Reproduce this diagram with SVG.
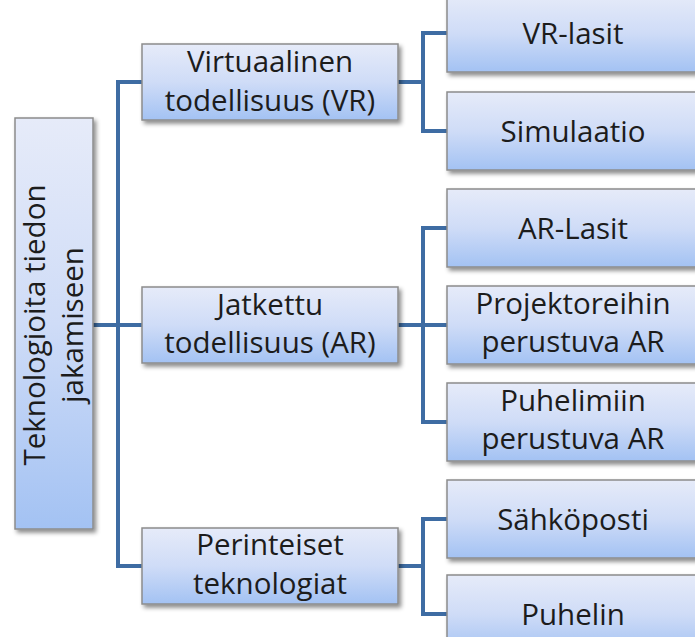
<svg xmlns="http://www.w3.org/2000/svg" width="695" height="637" viewBox="0 0 695 637">
<defs>
<linearGradient id="g" x1="0" y1="0" x2="0" y2="1">
<stop offset="0" stop-color="#e6ebf9"/>
<stop offset="0.5" stop-color="#cfdcf7"/>
<stop offset="1" stop-color="#a3c2f3"/>
</linearGradient>
<filter id="sh" x="-10%" y="-10%" width="130%" height="130%">
<feDropShadow dx="2.5" dy="3" stdDeviation="2" flood-color="#000" flood-opacity="0.45"/>
</filter>
</defs>
<style>
.box{fill:url(#g);stroke:#8c8c8c;stroke-width:1.5;filter:url(#sh)}
.t{font-family:"Open Sans","Liberation Sans",sans-serif;font-size:29.5px;fill:#1c1c1c;text-anchor:middle}
.c{fill:none;stroke:#3e6ca3;stroke-width:4;stroke-linejoin:miter}
</style>
<rect width="695" height="637" fill="#fff"/>
<g id="connectors">
<path class="c" d="M93,325 H142"/>
<path class="c" d="M142,82 H118 V566 H142"/>
<path class="c" d="M398,82 H423"/>
<path class="c" d="M447,33 H423 V131 H447"/>
<path class="c" d="M398,325 H447"/>
<path class="c" d="M447,228 H423 V422 H447"/>
<path class="c" d="M398,566 H423"/>
<path class="c" d="M447,519 H423 V614 H447"/>
</g>
<g id="root">
<rect class="box" x="15" y="118" width="78" height="411"/>
<g transform="translate(54,325) rotate(-90)">
<text class="t" x="0" y="-9.5">Teknologioita tiedon</text>
<text class="t" x="0" y="29">jakamiseen</text>
</g>
</g>
<g id="vr">
<rect class="box" x="142" y="44" width="256" height="76"/>
<text class="t" x="270" y="72">Virtuaalinen</text>
<text class="t" x="270" y="110.5">todellisuus (VR)</text>
</g>
<g id="ar">
<rect class="box" x="142" y="287" width="256" height="76"/>
<text class="t" x="270" y="314.5">Jatkettu</text>
<text class="t" x="270" y="353">todellisuus (AR)</text>
</g>
<g id="perinteiset">
<rect class="box" x="142" y="528" width="256" height="76"/>
<text class="t" x="270" y="555">Perinteiset</text>
<text class="t" x="270" y="593.5">teknologiat</text>
</g>
<g id="vr-lasit">
<rect class="box" x="447" y="-6" width="254" height="78"/>
<text class="t" x="573" y="43.5">VR-lasit</text>
</g>
<g id="simulaatio">
<rect class="box" x="447" y="92" width="254" height="78"/>
<text class="t" x="573" y="141.5">Simulaatio</text>
</g>
<g id="ar-lasit">
<rect class="box" x="447" y="189" width="254" height="78"/>
<text class="t" x="573" y="238.5">AR-Lasit</text>
</g>
<g id="projektoreihin">
<rect class="box" x="447" y="286" width="254" height="78"/>
<text class="t" x="573" y="313.5">Projektoreihin</text>
<text class="t" x="573" y="352">perustuva AR</text>
</g>
<g id="puhelimiin">
<rect class="box" x="447" y="383" width="254" height="78"/>
<text class="t" x="573" y="410.5">Puhelimiin</text>
<text class="t" x="573" y="449">perustuva AR</text>
</g>
<g id="sahkoposti">
<rect class="box" x="447" y="480" width="254" height="78"/>
<text class="t" x="573" y="529.5">Sähköposti</text>
</g>
<g id="puhelin">
<rect class="box" x="447" y="575" width="254" height="78"/>
<text class="t" x="573" y="624.5">Puhelin</text>
</g>
</svg>
